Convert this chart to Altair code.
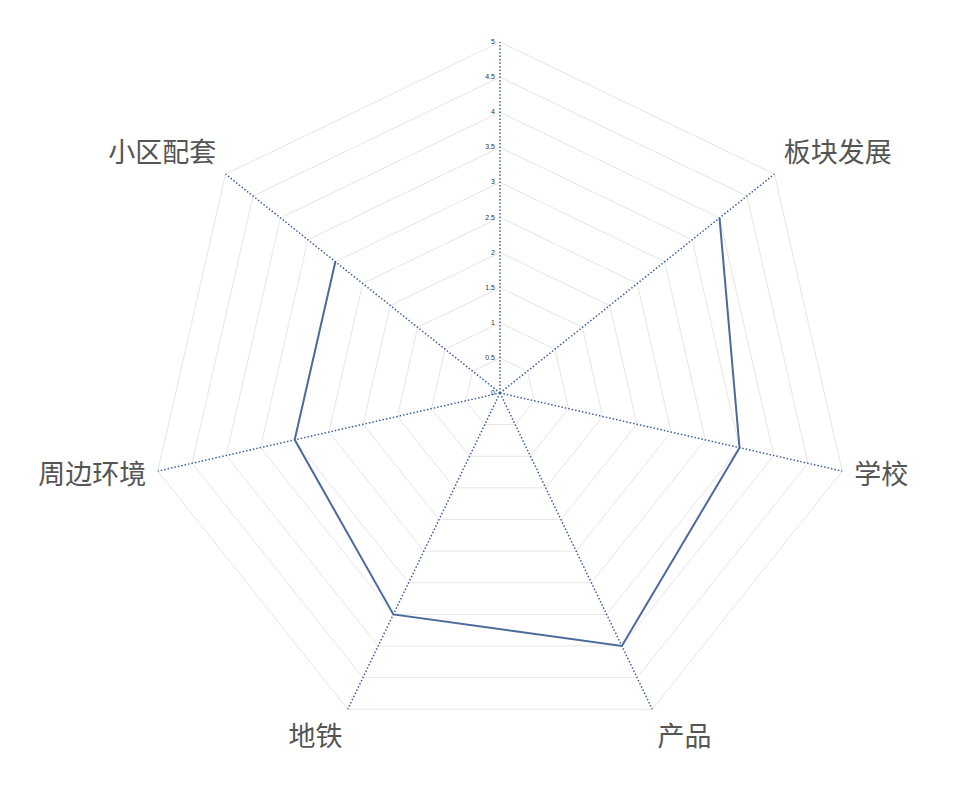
import altair as alt
import pandas as pd

categories = ["", "板块发展", "学校", "产品", "地铁", "周边环境", "小区配套"]
scores = [None, 4, 3.5, 4, 3.5, 3, 3]
tick_values = [0, 0.5, 1, 1.5, 2, 2.5, 3, 3.5, 4, 4.5, 5]
tick_labels = ["0", "0.5", "1", "1.5", "2", "2.5", "3", "3.5", "4", "4.5", "5"]
max_value = 5

n = len(categories)
cat_df = pd.DataFrame({"idx": list(range(n)), "cat": categories, "score": scores})
grid_df = pd.DataFrame(
    [{"level": lv, "idx": i} for lv in tick_values[1:] for i in range(n + 1)]
)
tick_df = pd.DataFrame({"v": tick_values, "label": tick_labels})

W, H = 940, 765
k = 70.2
cx, cy = 492, 385
X = alt.Scale(domain=[-cx / k, (W - cx) / k], nice=False, zero=False)
Y = alt.Scale(domain=[-(H - cy) / k, cy / k], nice=False, zero=False)
ang = f"2*PI*datum.idx/{n}"

grid = (
    alt.Chart(grid_df)
    .transform_calculate(gx=f"datum.level*sin({ang})", gy=f"datum.level*cos({ang})")
    .mark_line(color="#e6e6e6", strokeWidth=1)
    .encode(
        x=alt.X("gx:Q", scale=X, axis=None),
        y=alt.Y("gy:Q", scale=Y, axis=None),
        detail="level:N",
        order="idx:Q",
    )
)

spokes = (
    alt.Chart(cat_df)
    .transform_calculate(
        x0="0", y0="0",
        sx=f"{max_value}*sin({ang})", sy=f"{max_value}*cos({ang})",
    )
    .mark_rule(color="#3a5f9e", strokeWidth=1.5, strokeDash=[1.5, 2])
    .encode(
        x=alt.X("x0:Q", scale=X, axis=None),
        y=alt.Y("y0:Q", scale=Y, axis=None),
        x2="sx:Q",
        y2="sy:Q",
    )
)

line = (
    alt.Chart(cat_df)
    .transform_filter("isValid(datum.score)")
    .transform_calculate(px=f"datum.score*sin({ang})", py=f"datum.score*cos({ang})")
    .mark_line(color="#4a6a9c", strokeWidth=2)
    .encode(
        x=alt.X("px:Q", scale=X, axis=None),
        y=alt.Y("py:Q", scale=Y, axis=None),
        order="idx:Q",
    )
)

labels = (
    alt.Chart(cat_df)
    .transform_filter("length(datum.cat) > 0")
    .transform_calculate(s=f"sin({ang})", c=f"cos({ang})")
    .transform_calculate(
        lx=f"({max_value}+0.18)*datum.s + (datum.s>0?1:-1)*length(datum.cat)*0.19",
        ly=f"{max_value}*datum.c + (abs(datum.c)>0.5 ? 0.45*datum.c : -0.07)",
    )
    .mark_text(
        font="Noto Sans CJK SC", fontSize=27, color="#555555",
        align="center", baseline="middle",
    )
    .encode(
        x=alt.X("lx:Q", scale=X, axis=None),
        y=alt.Y("ly:Q", scale=Y, axis=None),
        text="cat:N",
    )
)

ticks = (
    alt.Chart(tick_df)
    .transform_calculate(tx="0")
    .mark_text(
        font="Liberation Sans", fontSize=7, color="#333333",
        align="right", baseline="middle", dx=-5,
    )
    .encode(
        x=alt.X("tx:Q", scale=X, axis=None),
        y=alt.Y("v:Q", scale=Y, axis=None),
        text="label:N",
    )
)

chart = (
    alt.layer(grid, spokes, line, labels, ticks)
    .properties(width=W, height=H, autosize=alt.AutoSizeParams(type="none"), padding=0)
    .configure_view(stroke=None)
)

chart.save("out.html", embed_options={"renderer": "svg", "actions": False})
